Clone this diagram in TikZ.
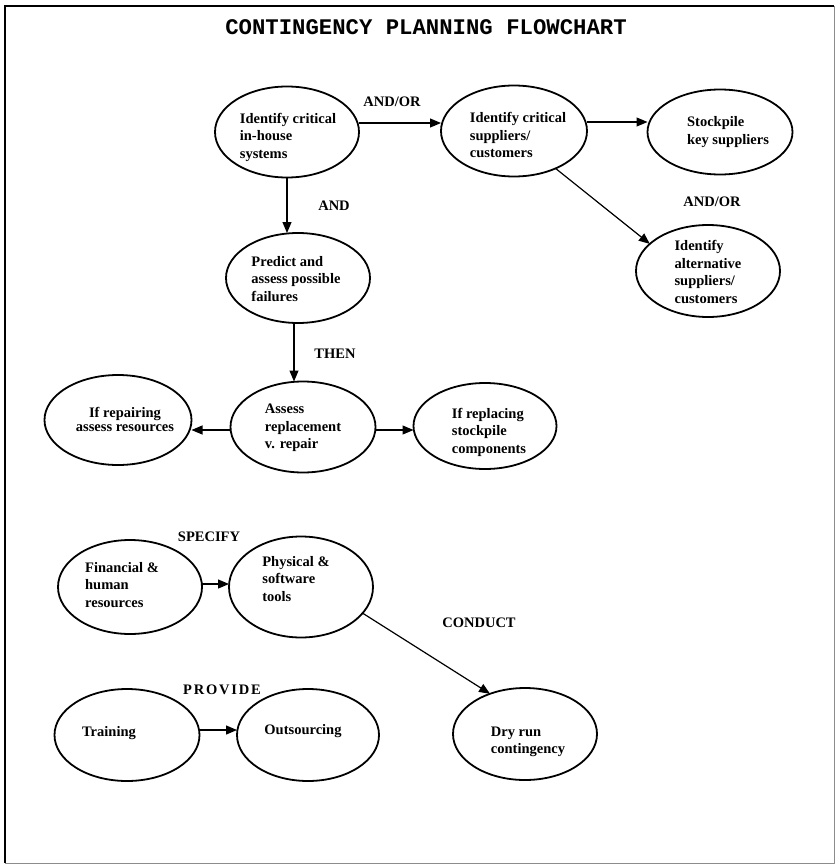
\documentclass[tikz,border=0pt]{standalone}
\usepackage{fontspec}
\setmainfont{Liberation Serif}
\newfontfamily\titlefont{Liberation Mono}
\usetikzlibrary{shapes.geometric,arrows.meta}
\begin{document}
\begin{tikzpicture}[x=1pt,y=-1pt,
  ell/.style={draw,ellipse,line width=1.8pt,inner sep=0pt,outer sep=0pt},
  txt/.style={font=\fontsize{14.5}{17.5}\selectfont\bfseries,align=left,inner sep=0pt},
  lbl/.style={font=\fontsize{14.5}{17.5}\selectfont\bfseries,inner sep=0pt},
  arr/.style={line width=1.2pt,-{Triangle[length=11pt,width=9pt]}}]
\useasboundingbox (0,0) rectangle (836,867);
% frame
\draw[line width=1.4pt] (5,863) -- (5,6) -- (834,6);
\draw[line width=0.8pt,black!45] (834,6) -- (834,863) -- (5,863);
% title
\node[inner sep=0pt,font=\titlefont\fontsize{22.3}{24}\selectfont\bfseries] (title) at (426,27) {CONTINGENCY PLANNING FLOWCHART};
% ellipses
\node[ell,minimum width=144pt,minimum height=91pt] (e1) at (287,132) {};
\node[ell,minimum width=146pt,minimum height=91pt] (e2) at (514,131) {};
\node[ell,minimum width=145pt,minimum height=85pt] (e3) at (720,132) {};
\node[ell,minimum width=144pt,minimum height=92pt] (e4) at (708,271) {};
\node[ell,minimum width=144pt,minimum height=90pt] (e5) at (298,278) {};
\node[ell,minimum width=145pt,minimum height=91pt] (e6) at (303,427) {};
\node[ell,minimum width=147pt,minimum height=90pt] (e7) at (118,420) {};
\node[ell,minimum width=143pt,minimum height=86pt] (e8) at (485,426) {};
\node[ell,minimum width=144pt,minimum height=94pt] (e9) at (130,587) {};
\node[ell,minimum width=144pt,minimum height=101pt] (e10) at (301,587) {};
\node[ell,minimum width=145pt,minimum height=92pt] (e11) at (127,735) {};
\node[ell,minimum width=142pt,minimum height=92pt] (e12) at (308,735) {};
\node[ell,minimum width=144pt,minimum height=92pt] (e13) at (525,734) {};
% texts
\node[txt] (t1) at (288,137) {Identify critical\\in-house\\systems};
\node[txt] (t2) at (518,135) {Identify critical\\suppliers/\\customers};
\node[txt] (t3) at (728,132) {Stockpile\\key suppliers};
\node[txt] (t4) at (708,272) {Identify\\alternative\\suppliers/\\customers};
\node[txt] (t5) at (296,279) {Predict and\\assess possible\\failures};
\node[txt] (t6) at (303,428) {Assess\\replacement\\v. repair};
\node[txt,align=center,font=\fontsize{14.5}{14}\selectfont\bfseries] (t7) at (125,419) {If repairing\\assess resources};
\node[txt] (t8) at (489,432) {If replacing\\stockpile\\components};
\node[txt] (t9) at (122,585) {Financial \&\\human\\resources};
\node[txt] (t10) at (296,579) {Physical \&\\software\\tools};
\node[txt] (t11) at (109,733) {Training};
\node[txt] (t12) at (303,731) {Outsourcing};
\node[txt] (t13) at (528,742) {Dry run\\contingency};
% labels
\node[lbl] (l1) at (392,102) {AND/OR};
\node[lbl] (l2) at (334,206) {AND};
\node[lbl] (l3) at (712,202) {AND/OR};
\node[lbl] (l4) at (335,354) {THEN};
\node[lbl] (l5) at (209,537) {SPECIFY};
\node[lbl] (l6) at (479,623) {CONDUCT};
\node[lbl] (l7) at (222,690) {P\kern1.8pt R\kern1.8pt O\kern1.8pt V\kern1.8pt I\kern1.8pt D\kern1.8pt E};
% arrows
\draw[arr] ([yshift=9pt]e1.east) -- ([yshift=8pt]e2.west);
\draw[arr] ([yshift=9pt]e2.east) -- ([yshift=10pt]e3.west);
\draw[arr] (e2.-42) -- (e4.155);
\draw[arr] (e1.south) -- (e1.south |- e5.north);
\draw[arr] ([xshift=-4pt]e5.south) -- ([xshift=-4pt]e5.south |- e6.north);
\draw[arr] ([yshift=-3pt]e6.west) -- ([yshift=-10pt]e7.east);
\draw[arr] ([yshift=-3pt]e6.east) -- ([yshift=-4pt]e8.west);
\draw[arr] ([yshift=3pt]e9.east) -- ([yshift=3pt]e10.west);
\draw[arr] (e10.-23) -- (e13.131);
\draw[arr] ([yshift=5pt]e11.east) -- ([yshift=5pt]e12.west);
\end{tikzpicture}
\end{document}
